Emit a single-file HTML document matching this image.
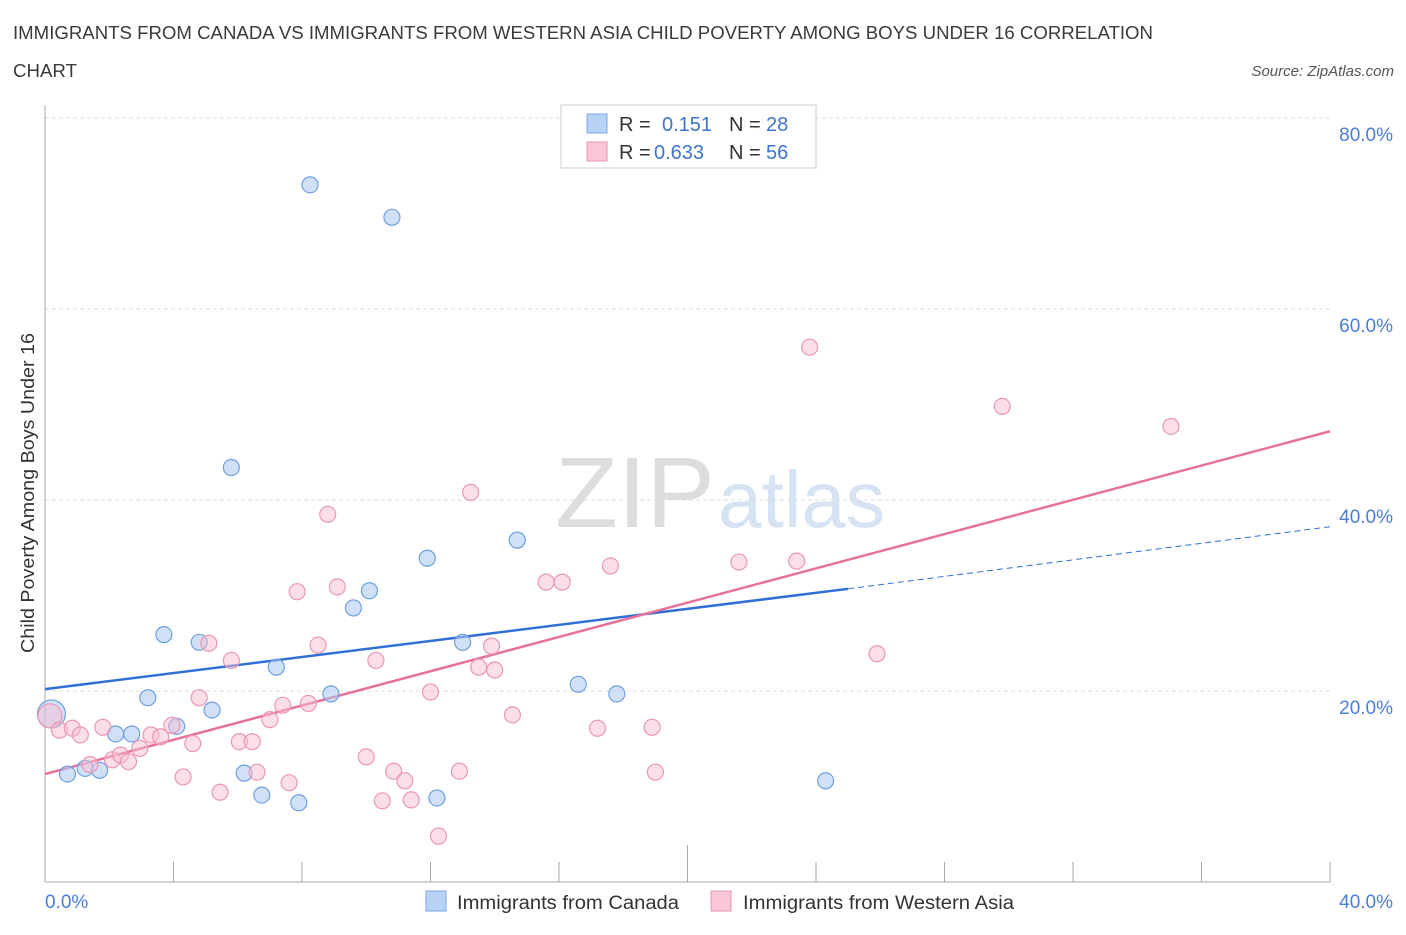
<!DOCTYPE html>
<html><head><meta charset="utf-8"><style>
body{margin:0;background:#fff;font-family:"Liberation Sans",sans-serif;}
svg text{font-family:"Liberation Sans",sans-serif;}
</style></head><body>
<svg id="chart" width="1406" height="930" viewBox="0 0 1406 930" xmlns="http://www.w3.org/2000/svg">
<text x="13" y="39" font-size="18" fill="#3a3a3a" textLength="1140" lengthAdjust="spacingAndGlyphs">IMMIGRANTS FROM CANADA VS IMMIGRANTS FROM WESTERN ASIA CHILD POVERTY AMONG BOYS UNDER 16 CORRELATION</text>
<text x="13" y="77" font-size="18" fill="#3a3a3a" textLength="64" lengthAdjust="spacingAndGlyphs">CHART</text>
<text x="1394" y="76" font-size="15" font-style="italic" fill="#555" text-anchor="end">Source: ZipAtlas.com</text>
<text x="555" y="527" font-size="100" fill="#ddd" textLength="160" lengthAdjust="spacingAndGlyphs">ZIP</text>
<text x="718" y="527" font-size="80" fill="#d5e3f3" textLength="167" lengthAdjust="spacingAndGlyphs">atlas</text>
<g id="grid"></g>
<g id="axes"></g>
<g id="lines"></g>
<g id="points"></g>
<text transform="translate(34,493) rotate(-90)" font-size="18" fill="#333" text-anchor="middle" textLength="320" lengthAdjust="spacingAndGlyphs">Child Poverty Among Boys Under 16</text>
<text x="45" y="908" font-size="19" fill="#4a7fd4">0.0%</text>
<text x="1393" y="908" font-size="19" fill="#4a7fd4" text-anchor="end">40.0%</text>
<g>
<rect x="561" y="105" width="255" height="63" fill="#fff" stroke="#ccc"/>
<rect x="587" y="114" width="20" height="19" fill="#b8d2f3" stroke="#7aa6e0"/>
<rect x="587" y="142" width="20" height="19" fill="#f8c6d6" stroke="#e996b2"/>
<text x="619" y="131" font-size="20" fill="#333">R = </text><text x="662" y="131" font-size="20" fill="#3d74cf">0.151</text>
<text x="729" y="131" font-size="20" fill="#333">N = </text><text x="766" y="131" font-size="20" fill="#3d74cf">28</text>
<text x="619" y="159" font-size="20" fill="#333">R = </text><text x="654" y="159" font-size="20" fill="#3d74cf">0.633</text>
<text x="729" y="159" font-size="20" fill="#333">N = </text><text x="766" y="159" font-size="20" fill="#3d74cf">56</text>
</g>
<g>
<rect x="426" y="891" width="20" height="20" fill="#b8d2f3" stroke="#7aa6e0"/>
<text x="457" y="909" font-size="19" fill="#333" textLength="222" lengthAdjust="spacingAndGlyphs">Immigrants from Canada</text>
<rect x="711" y="891" width="20" height="20" fill="#f8c6d6" stroke="#e996b2"/>
<text x="743" y="909" font-size="19" fill="#333" textLength="271" lengthAdjust="spacingAndGlyphs">Immigrants from Western Asia</text>
</g>
</svg>
<script>
const yTicks=[20,40,60,80];
const yTickLabels=["20.0%","40.0%","60.0%","80.0%"];
const xTicks=[0,4,8,12,16,20,24,28,32,36,40];
const canadaX=[0.2,0.7,1.25,1.7,2.2,2.7,3.2,3.7,4.1,4.8,5.2,5.8,6.2,6.75,7.2,7.9,8.25,8.9,9.6,10.1,10.8,11.9,12.2,13.0,14.7,16.6,17.8,24.3];
const canadaY=[17.6,11.3,11.9,11.7,15.5,15.5,19.3,25.9,16.3,25.1,18.0,43.4,11.4,9.1,22.5,8.3,73.0,19.7,28.7,30.5,69.6,33.9,8.8,25.1,35.8,20.7,19.7,10.6];
const asiaX=[0.15,0.45,0.85,1.1,1.4,1.8,2.1,2.35,2.6,2.95,3.3,3.6,3.95,4.3,4.6,4.8,5.1,5.45,5.8,6.05,6.45,6.6,7.0,7.4,7.6,7.85,8.2,8.5,8.8,9.1,10.0,10.3,10.5,10.85,11.2,11.4,12.0,12.25,12.9,13.25,13.5,13.9,14.0,14.55,15.6,16.1,17.2,17.6,18.9,19.0,21.6,23.4,23.8,25.9,29.8,35.05];
const asiaY=[17.4,15.9,16.1,15.4,12.3,16.2,12.8,13.3,12.6,14.0,15.4,15.2,16.4,11.0,14.5,19.3,25.0,9.4,23.2,14.7,14.7,11.5,17.0,18.5,10.4,30.4,18.7,24.8,38.5,30.9,13.1,23.2,8.5,11.6,10.6,8.6,19.9,4.8,11.6,40.8,22.5,24.7,22.2,17.5,31.4,31.4,16.1,33.1,16.2,11.5,33.5,33.6,56.0,23.9,49.8,47.7];
const canadaTrend=[20.2,30.7,37.2]; // at x=0, 25, 40
const asiaTrend=[11.3,47.2]; // at x=0, 40
const NS="http://www.w3.org/2000/svg";
const sx=v=>45+v*32.125, sy=v=>882-v*9.55;
function mk(tag,attrs,parent){const e=document.createElementNS(NS,tag);for(const k in attrs)e.setAttribute(k,attrs[k]);document.getElementById(parent).appendChild(e);return e;}
yTicks.forEach((t,i)=>{
 const g=mk('line',{x1:45,x2:1330,y1:sy(t),y2:sy(t),stroke:'#ddd','stroke-dasharray':'4,3'},'grid');
 
 
 const l=mk('text',{x:1393,y:sy(t)+23,'font-size':19,fill:'#4a7fd4','text-anchor':'end'},'grid');
 l.textContent=yTickLabels[i];
 
 
});
const ax=mk('line',{x1:45,x2:45,y1:105,y2:882,stroke:'#aaa'},'axes');


const bx=mk('line',{x1:45,x2:1330,y1:882,y2:882,stroke:'#aaa'},'axes');


xTicks.forEach(t=>{
 const tk=mk('line',{x1:sx(t),x2:sx(t),y1:t===20?845:862,y2:882,stroke:'#aaa'},'axes');
 
 
});
const bl=mk('line',{x1:sx(0),y1:sy(canadaTrend[0]),x2:sx(25),y2:sy(canadaTrend[1]),stroke:'#2f6fd6','stroke-width':2.5},'lines');


const bd=mk('line',{x1:sx(25),y1:sy(canadaTrend[1]),x2:sx(40),y2:sy(canadaTrend[2]),stroke:'#2f6fd6','stroke-width':1,'stroke-dasharray':'6,4'},'lines');


const pl=mk('line',{x1:sx(0),y1:sy(asiaTrend[0]),x2:sx(40),y2:sy(asiaTrend[1]),stroke:'#e6729a','stroke-width':2.5},'lines');


canadaX.forEach((x,i)=>{
 const c=mk('circle',{cx:sx(x),cy:sy(canadaY[i]),r:i===0?14:8,fill:'rgba(170,200,240,0.55)',stroke:'#6f9fe0','stroke-width':1.2},'points');
 
 
});
asiaX.forEach((x,i)=>{
 const c=mk('circle',{cx:sx(x),cy:sy(asiaY[i]),r:i===0?12:8,fill:'rgba(248,190,210,0.5)',stroke:'#eb97b4','stroke-width':1.2},'points');
 
 
});
</script>
</body></html>
